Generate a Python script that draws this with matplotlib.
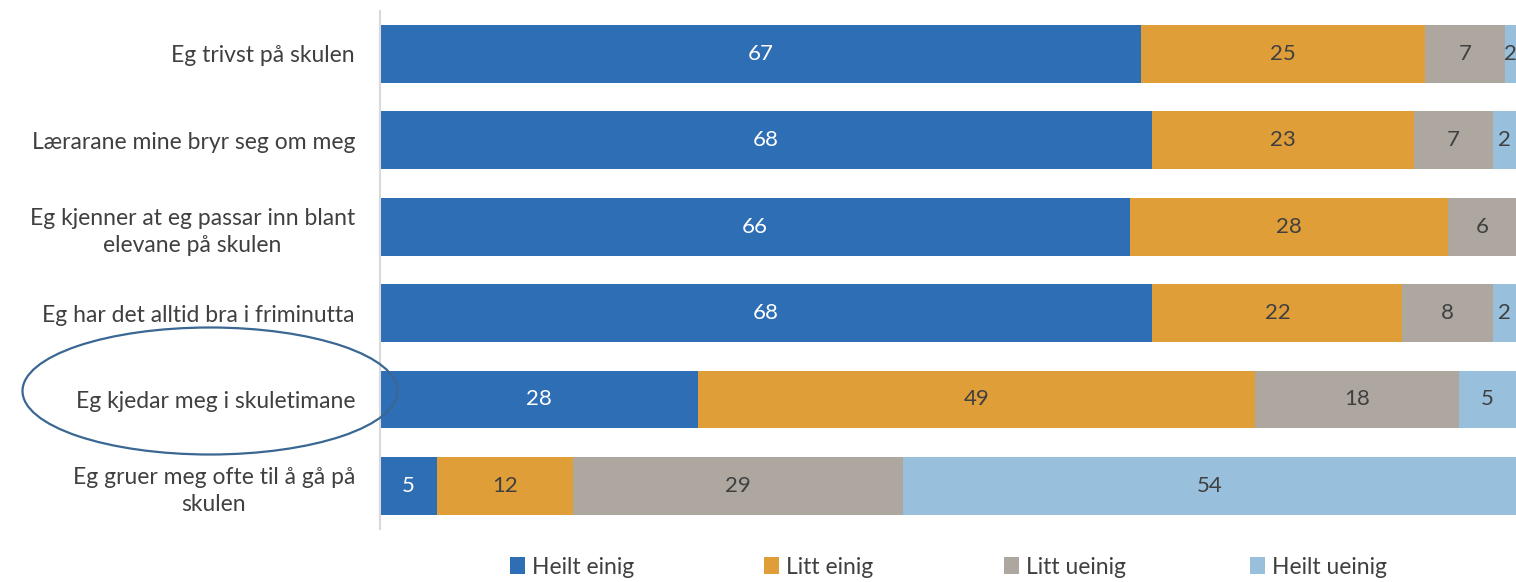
import matplotlib.pyplot as plt
import numpy as np
from matplotlib.patches import Patch, Ellipse

plt.rcParams['font.family'] = ['Lato', 'DejaVu Sans']

# Data (per cent), top row first
questions = [
    "Eg trivst på skulen",
    "Lærarane mine bryr seg om meg",
    "Eg kjenner at eg passar inn blant\nelevane på skulen",
    "Eg har det alltid bra i friminutta",
    "Eg kjedar meg i skuletimane",
    "Eg gruer meg ofte til å gå på\nskulen",
]
heilt_einig = [67, 68, 66, 68, 28, 5]
litt_einig = [25, 23, 28, 22, 49, 12]
litt_ueinig = [7, 7, 6, 8, 18, 29]
heilt_ueinig = [2, 2, 0, 2, 5, 54]

series_names = ["Heilt einig", "Litt einig", "Litt ueinig", "Heilt ueinig"]
series_colors = ["#2E6EB4", "#DF9E37", "#ADA7A0", "#98C0DC"]
label_colors = ["white", "#404040", "#404040", "#404040"]

XMAX = 100

fig = plt.figure(figsize=(15.16, 5.82), dpi=100)
ax = fig.add_axes([380 / 1516, 1 - 529 / 582, 1 - 380 / 1516, (529 - 10.8) / 582])

y = np.arange(len(questions))
left = np.zeros(len(questions))
for name, vals, col, tcol in zip(series_names,
                                 [heilt_einig, litt_einig, litt_ueinig, heilt_ueinig],
                                 series_colors, label_colors):
    vals = np.array(vals, dtype=float)
    ax.barh(y, vals, left=left, height=0.67, color=col, label=name)
    for yi, l, v in zip(y, left, vals):
        if v <= 0:
            continue
        # centre of the visible part of the segment
        xc = (l + min(l + v, XMAX)) / 2
        ax.text(xc, yi, f"{int(v)}", ha='center', va='center',
                color=tcol, fontsize=16)
    left += vals

ax.set_xlim(0, XMAX)
ax.set_ylim(len(questions) - 0.5, -0.5)
ax.set_yticks(y)
ax.set_yticklabels(questions, fontsize=16.5, color='#404040', multialignment='center',
                   linespacing=1.35)
ax.tick_params(axis='y', length=0, pad=18)
ax.set_xticks([])
for side in ['top', 'right', 'bottom']:
    ax.spines[side].set_visible(False)
ax.spines['left'].set_color('#D9D9D9')
ax.spines['left'].set_linewidth(1.5)

# legend entries placed along the bottom
legend_x = [510, 764, 1004, 1250]
for name, col, lx in zip(series_names, series_colors, legend_x):
    fig.legend(handles=[Patch(facecolor=col, label=name)], loc='center left',
               bbox_to_anchor=(lx / 1516, 1 - 567 / 582), frameon=False,
               fontsize=16.5, labelcolor='#404040', handlelength=0.65,
               handleheight=0.8, handletextpad=0.3, borderpad=0, borderaxespad=0)

# highlight ellipse around one question
ell = Ellipse((210 / 1516, 1 - 391 / 582), 375 / 1516, 127 / 582,
              transform=fig.transFigure, fill=False, edgecolor='#3A6793',
              linewidth=1.6, clip_on=False)
fig.patches.append(ell)

fig.savefig('out.png', dpi=100)
